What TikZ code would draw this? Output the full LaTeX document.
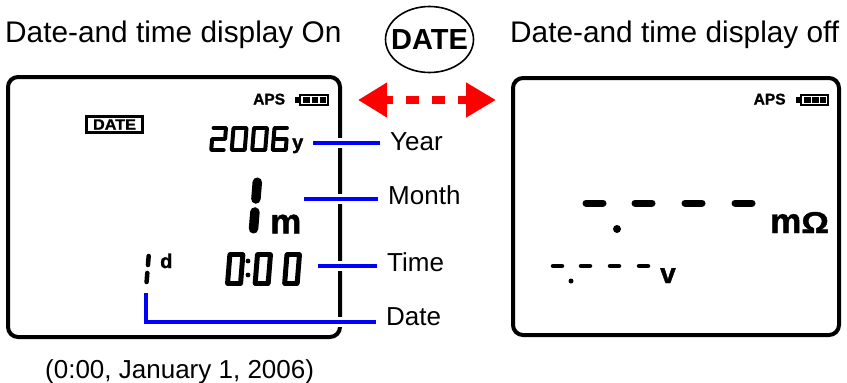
\documentclass[tikz,border=0pt]{standalone}
\usepackage{graphicx}
\usepackage{fontspec}
\setmainfont{Liberation Sans}
\newfontfamily\lcdfont[FakeBold=1.3]{Liberation Sans Bold}
\usetikzlibrary{arrows.meta, positioning, shapes.geometric}
\definecolor{leaderblue}{HTML}{0000FF}
\definecolor{arrowred}{HTML}{FF0000}
\newcommand{\px}[1]{\fontsize{#1}{#1}\selectfont}
\newcommand{\digitzero}{tl/tr,tr/mr,mr/br,br/bl,bl/ml,ml/tl}
\newcommand{\digittwo}{tl/tr,tr/mr,mr/ml,ml/bl,bl/br}
\newcommand{\digitsix}{tr/tl,tl/ml,ml/mr,mr/br,br/bl,bl/ml}
\newcommand{\digitone}{tr/mr,mr/br}
% [shorten], x, y of the top left corner, width, height, stroke, segments
\newcommand{\lcddigit}[7][0.6]{
  \begin{scope}[shift={(#2,#3)}, xslant=0.08]
    \coordinate (tl) at (0,0);
    \coordinate (tr) at (#4,0);
    \coordinate (ml) at (0,#5/2);
    \coordinate (mr) at (#4,#5/2);
    \coordinate (bl) at (0,#5);
    \coordinate (br) at (#4,#5);
    \foreach \a/\b in #7
      \draw[line width=#6pt, line cap=round, shorten <=#1pt, shorten >=#1pt] (\a) -- (\b);
  \end{scope}
}
\tikzset{
  screen/.style={draw=black, line width=4pt, rounded corners=10pt, fill=white, inner sep=0pt},
  caption/.style={font=\px{26}, anchor=base west, inner sep=0pt},
  label/.style={font=\px{26}, anchor=base west, inner ysep=0pt, inner xsep=10pt},
  lcdtext/.style={inner sep=0pt, anchor=base west},
  leader/.style={draw=leaderblue, line width=3.5pt, preaction={draw=white, line width=10pt}},
  redarrow/.style={draw=arrowred, line width=8pt, dash pattern=on 13pt off 13pt, dash phase=5pt,
    {Triangle[length=29pt, width=33pt, fill=arrowred]}-{Triangle[length=30pt, width=33pt, fill=arrowred]}}
}
\begin{document}
\begin{tikzpicture}[x=1pt, y=-1pt]
  \useasboundingbox (0,0) rectangle (847,383);

  \node[caption, font=\px{29.8}] (capon) at (5,42.5) {Date-and time display On};
  \node[caption, font=\px{29.8}] (capoff) at (510,42.5) {Date-and time display off};
  \node[draw, ellipse, line width=1.6pt, minimum width=88pt, minimum height=66pt, inner sep=-10pt,
        font=\px{29}\bfseries] (datekey) at (429.5,39.5) {DATE};
  \node[caption] (stamp) at (45,378) {(0:00, January 1, 2006)};

  \node[screen, minimum width=332pt, minimum height=260pt] (screenon) at (174,207) {};
  \node[screen, minimum width=326pt, minimum height=257pt] (screenoff) at (676,206.5) {};

  \coordinate (arrowleft) at (358,100);
  \coordinate (arrowright) at (496,100);
  \draw[redarrow] (arrowleft) -- (arrowright);

  % status line of both screens
  \foreach \i/\xx in {on/0, off/500.5} {
    \begin{scope}[shift={(\xx,0)}]
      \node[lcdtext, font=\px{15.5}\lcdfont] (aps\i) at (253,104.5) {APS};
      \draw[line width=2pt] (300,94.5) rectangle (327.5,105);
      \fill (295,96.5) rectangle (300,102.5);
      \fill (303,97) rectangle (310,102.5);
      \fill (311.5,97) rectangle (318,102.5);
      \fill (319.5,97) rectangle (325.5,102.5);
    \end{scope}
  }

  % screen with the date
  \node[draw, line width=2.4pt, inner sep=0pt, minimum width=56pt, minimum height=16pt,
        font=\px{15}\lcdfont] (datebadge) at (114.5,124.5) {\scalebox{1.08}[1]{DATE}};
  \lcddigit{213}{128}{13}{22}{4}{\digittwo}
  \lcddigit{233.5}{128}{13}{22}{4}{\digitzero}
  \lcddigit{254}{128}{13}{22}{4}{\digitzero}
  \lcddigit{274.5}{128}{13}{22}{4}{\digitsix}
  \node[lcdtext, font=\px{20}\lcdfont] (yearunit) at (292,149) {y};
  \lcddigit[6.5]{257.8}{175.75}{0}{59.5}{9.5}{\digitone}
  \node[lcdtext, font=\px{35}\lcdfont] (monthunit) at (270,233.5) {m};
  \lcddigit[4]{149}{252}{0}{34}{4.5}{\digitone}
  \node[lcdtext, font=\px{20}\lcdfont] (dayunit) at (160,268) {d};
  \lcddigit{229.9}{254.3}{13}{29.5}{5}{\digitzero}
  \fill (248,261) circle (2.4pt) (248,275) circle (2.4pt);
  \lcddigit{257.5}{254.3}{13}{29.5}{5}{\digitzero}
  \lcddigit{287}{254.3}{12.5}{29.5}{5}{\digitzero}

  % screen without the date
  \foreach \xx in {583,632,682,732}
    \draw[line width=7pt, line cap=round] (\xx+3,203) -- (\xx+20,203);
  \fill (617,229) circle (4pt);
  \node[lcdtext, font=\px{35}\lcdfont] (ohmunit) at (770,233)
       {m\scalebox{1.15}[1]{\px{30}Ω}};
  \foreach \xx in {551,579,608,637}
    \draw[line width=4.5pt, line cap=round] (\xx+2,266) -- (\xx+11,266);
  \fill (571,281) circle (2.5pt);
  \node[lcdtext, font=\px{28}\lcdfont] (voltunit) at (660,283) {v};

  % labels and their leaders
  \foreach \name/\txt/\xx/\yy in {year/Year/380/150, month/Month/378/204, time/Time/377/271, date/Date/376/325}
    \node[label] (\name label) at (\xx,\yy) {\txt};
  \coordinate (yearend) at (313,143);
  \coordinate (monthend) at (304,199);
  \coordinate (timeend) at (318,266);
  \coordinate (dateend) at (146,293);
  \coordinate (datebend) at (146,322);
  \draw[leader] (yearend) -- (yearend -| yearlabel.west);
  \draw[leader] (monthend) -- (monthend -| monthlabel.west);
  \draw[leader] (timeend) -- (timeend -| timelabel.west);
  \draw[leader] (dateend) -- (datebend) -- (datebend -| datelabel.west);
\end{tikzpicture}
\end{document}
